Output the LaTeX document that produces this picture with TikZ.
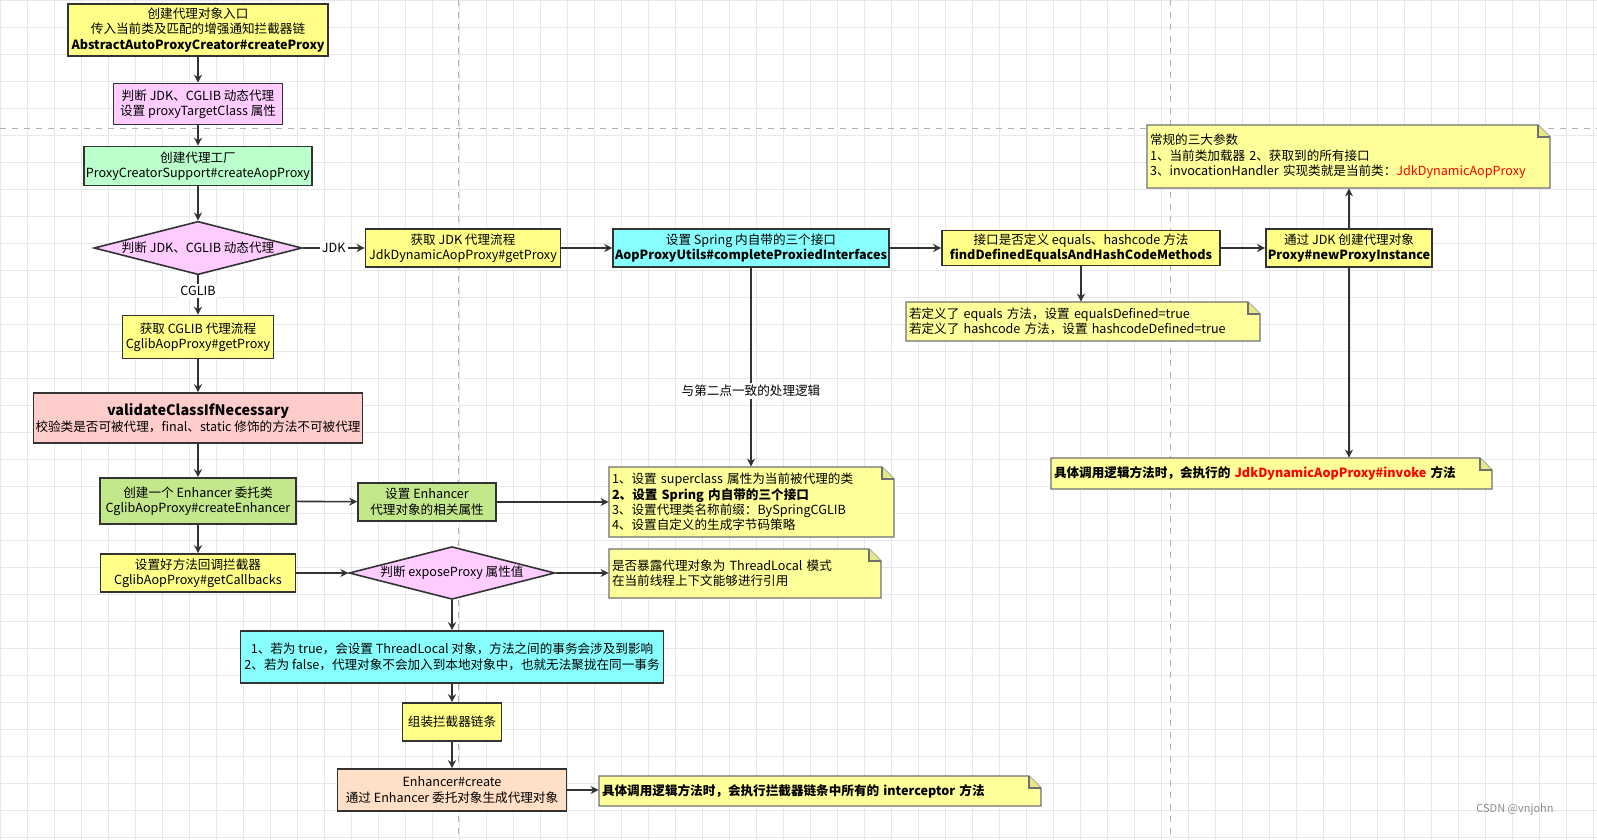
\documentclass[tikz,border=0pt]{standalone}
\usepackage{fontspec}
\setmainfont{Noto Sans CJK SC}
\usetikzlibrary{shapes.geometric,arrows.meta}
\definecolor{cy}{HTML}{FFFF88}
\definecolor{cpk}{HTML}{FFCCFF}
\definecolor{cgr}{HTML}{BBFFCC}
\definecolor{ccy}{HTML}{88FFFF}
\definecolor{csa}{HTML}{FFCCCC}
\definecolor{cg2}{HTML}{C3E88C}
\definecolor{cpe}{HTML}{FFE0C6}
\definecolor{cnote}{HTML}{FFFF99}
\definecolor{cfold}{HTML}{E6E68A}
\definecolor{bd}{HTML}{333333}
\newcommand\mynote[6]{%
 \filldraw[fill=cnote,draw=bd!70,line width=0.6pt] (#2,#3) -- ({#4-12},#3) -- (#4,{#3+12}) -- (#4,#5) -- (#2,#5) -- cycle;
 \filldraw[fill=cfold,draw=bd!70,line width=0.6pt] ({#4-12},#3) -- ({#4-12},{#3+12}) -- (#4,{#3+12});
 \pgfmathsetmacro\nw{(#4-#2)/2-3}\pgfmathsetmacro\nh{(#5-#3)/2}%
 \node[nt,text width=\nw pt,minimum height=\nh pt] (#1) at ({(#2+#4)/2},{(#3+#5)/2}) {#6};}
\begin{document}
\begin{tikzpicture}[x=0.5pt,y=-0.5pt,
 font=\fontsize{6.3}{7.7}\selectfont,
 box/.style={draw=bd,line width=0.8pt,align=center,inner sep=1pt},
 dia/.style={diamond,aspect=3.9,draw=bd,line width=0.8pt,fill=cpk,inner sep=0.5pt,align=center},
 nt/.style={align=left,inner sep=1.5pt},
 ar/.style={draw=bd,line width=0.8pt,-{Stealth[length=4pt,width=4pt]}},
 lab/.style={fill=white,inner sep=1pt}]
\useasboundingbox (0,0) rectangle (1597,840);
\fill[white] (0,0) rectangle (1597,840);
\foreach \i in {0,...,60} \draw[black!9,line width=0.3pt] (\i*27,0) -- (\i*27,840);
\foreach \i in {0,...,31} \draw[black!9,line width=0.3pt] (0,\i*27) -- (1597,\i*27);
\draw[black!30,dashed,line width=0.4pt] (458,0) -- (458,840) (1170,0) -- (1170,840) (0,128) -- (1597,128);
% main nodes
\node[box,fill=cy,minimum width=130pt,minimum height=26pt] (n1) at (198,30) {创建代理对象入口\\传入当前类及匹配的增强通知拦截器链\\\textbf{AbstractAutoProxyCreator\#createProxy}};
\node[box,fill=cpk,minimum width=84.5pt,minimum height=20.5pt] (n2) at (198,104) {判断 JDK、CGLIB 动态代理\\设置 proxyTargetClass 属性};
\node[box,fill=cgr,minimum width=110pt,minimum height=19.5pt] (n3) at (198,166) {创建代理工厂\\ProxyCreatorSupport\#createAopProxy};
\node[dia,minimum width=102pt,minimum height=26.5pt] (d1) at (198,248) {判断 JDK、CGLIB 动态代理};
\node[box,fill=cy,minimum width=97.5pt,minimum height=19pt] (n4) at (463,248) {获取 JDK 代理流程\\JdkDynamicAopProxy\#getProxy};
\node[box,fill=ccy,minimum width=136pt,minimum height=19pt] (n5) at (751,248) {设置 Spring 内自带的三个接口\\\textbf{AopProxyUtils\#completeProxiedInterfaces}};
\node[box,fill=cy,minimum width=139pt,minimum height=17.5pt] (n6) at (1081,248) {接口是否定义 equals、hashcode 方法\\\textbf{findDefinedEqualsAndHashCodeMethods}};
\node[box,fill=cy,minimum width=78pt,minimum height=19pt] (n7) at (1349,248) {通过 JDK 创建代理对象\\\textbf{Proxy\#newProxyInstance}};
\node[box,fill=cy,minimum width=75.5pt,minimum height=21.5pt] (n8) at (198,337) {获取 CGLIB 代理流程\\CglibAopProxy\#getProxy};
\node[box,fill=csa,minimum width=162pt,minimum height=25pt] (n9) at (198,418) {{\fontsize{7.2}{9.2}\selectfont\textbf{validateClassIfNecessary}}\\校验类是否可被代理，final、static 修饰的方法不可被代理};
\node[box,fill=cg2,minimum width=98pt,minimum height=23pt] (n10) at (198,501) {创建一个 Enhancer 委托类\\CglibAopProxy\#createEnhancer};
\node[box,fill=cg2,minimum width=69pt,minimum height=19pt] (n11) at (427,502) {设置 Enhancer\\代理对象的相关属性};
\node[box,fill=cy,minimum width=97.5pt,minimum height=19pt] (n12) at (198,573) {设置好方法回调拦截器\\CglibAopProxy\#getCallbacks};
\node[dia,minimum width=99pt,minimum height=25pt] (d2) at (452,573) {判断 exposeProxy 属性值};
\node[box,fill=ccy,minimum width=211.5pt,minimum height=26pt] (n13) at (452,657) {1、若为 true，会设置 ThreadLocal 对象，方法之间的事务会涉及到影响\\2、若为 false，代理对象不会加入到本地对象中，也就无法聚拢在同一事务};
\node[box,fill=cy,minimum width=49.5pt,minimum height=19pt] (n14) at (452,722) {组装拦截器链条};
\node[box,fill=cpe,minimum width=114.5pt,minimum height=21pt] (n15) at (452,790) {Enhancer\#create\\通过 Enhancer 委托对象生成代理对象};
% notes
\mynote{nTop}{1147}{125}{1550}{188}{常规的三大参数\\1、当前类加载器 2、获取到的所有接口\\3、invocationHandler 实现类就是当前类：\textcolor{red}{JdkDynamicAopProxy}}
\mynote{nEq}{906}{302}{1260}{341}{若定义了 equals 方法，设置 equalsDefined=true\\若定义了 hashcode 方法，设置 hashcodeDefined=true}
\mynote{nInv}{1051}{458}{1492}{489}{\textbf{具体调用逻辑方法时，会执行的 \textcolor{red}{JdkDynamicAopProxy\#invoke} 方法}}
\mynote{nSup}{609}{467}{894}{537}{1、设置 superclass 属性为当前被代理的类\\\textbf{2、设置 Spring 内自带的三个接口}\\3、设置代理类名称前缀：BySpringCGLIB\\4、设置自定义的生成字节码策略}
\mynote{nExp}{609}{549}{881}{598}{是否暴露代理对象为 ThreadLocal 模式\\在当前线程上下文能够进行引用}
\mynote{nInt}{599}{776}{1041}{806}{\textbf{具体调用逻辑方法时，会执行拦截器链条中所有的 interceptor 方法}}
% connectors
\draw[ar] (n1) -- (n2);
\draw[ar] (n2) -- (n3);
\draw[ar] (n3) -- (d1);
\draw[ar] (d1) -- node[lab] {JDK} (n4);
\draw[ar] (d1) -- node[lab,pos=0.4] {CGLIB} (n8);
\draw[ar] (n8) -- (n9);
\draw[ar] (n9) -- (n10);
\draw[ar] (n10) -- (n11);
\draw[ar] (n11) -- (nSup.west |- n11);
\draw[ar] (n10) -- (n12);
\draw[ar] (n12) -- (d2);
\draw[ar] (d2) -- (nExp.west |- d2);
\draw[ar] (d2) -- (n13);
\draw[ar] (n13) -- (n14);
\draw[ar] (n14) -- (n15);
\draw[ar] (n15) -- (nInt.west |- n15);
\draw[ar] (n4) -- (n5);
\draw[ar] (n5) -- node[lab,pos=0.62] {与第二点一致的处理逻辑} (nSup.north -| n5);
\draw[ar] (n5) -- (n6);
\draw[ar] (n6) -- (nEq.north -| n6);
\draw[ar] (n6) -- (n7);
\draw[ar] (n7) -- (nTop.south -| n7);
\draw[ar] (n7) -- (nInv.north -| n7);
\node[text=black!45,font=\fontsize{5.5}{6}\selectfont] (wm) at (1515,809) {CSDN @vnjohn};
\end{tikzpicture}
\end{document}
